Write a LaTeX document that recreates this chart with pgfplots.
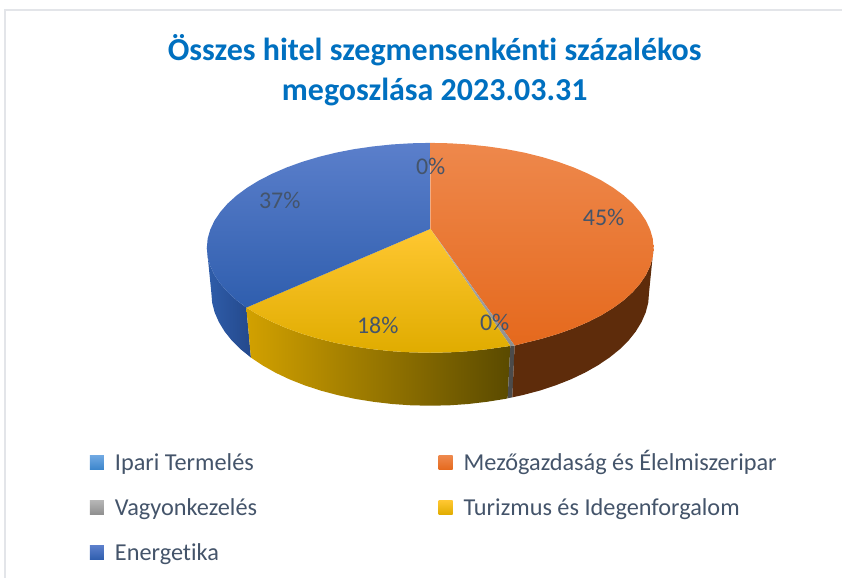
\documentclass[border=0pt]{standalone}
\usepackage{pgfplots}
\pgfplotsset{compat=1.18}
\usepackage{fontspec}
\setmainfont{Carlito}[Ligatures=CommonOff]

\definecolor{titleblue}{HTML}{0070C0}
\definecolor{slate}{HTML}{44546A}
\definecolor{framegray}{HTML}{E3E5E9}
\definecolor{sideblueA}{HTML}{2F5DAA}
\definecolor{sideblueB}{HTML}{24498C}
\definecolor{sideyelA}{HTML}{D2A100}
\definecolor{sideyelB}{HTML}{8F7100}
\definecolor{sideyelC}{HTML}{5A4A00}
\definecolor{sidegray}{HTML}{4B4B4B}
\definecolor{sideorange}{HTML}{5E2C0B}
\definecolor{ipariA}{HTML}{6FA8E2}
\definecolor{ipariB}{HTML}{3C85CB}
\definecolor{orangeA}{HTML}{EE884C}
\definecolor{orangeB}{HTML}{F27829}
\definecolor{orangeC}{HTML}{E5691D}
\definecolor{grayA}{HTML}{B5B5B5}
\definecolor{grayB}{HTML}{8F8F8F}
\definecolor{yelA}{HTML}{FFC731}
\definecolor{yelB}{HTML}{FFC000}
\definecolor{yelC}{HTML}{E0AC00}
\definecolor{blueA}{HTML}{5B7FCB}
\definecolor{blueB}{HTML}{3C68C0}
\definecolor{blueC}{HTML}{2F5EAE}

\begin{document}
\begin{tikzpicture}
\begin{axis}[
    width=843pt, height=578pt, scale only axis,
    xmin=0, xmax=843, ymin=0, ymax=578, y dir=reverse,
    axis lines=none, clip=false,
    legend columns=2,
    legend cell align=left,
    legend style={at={(axis cs:90,455)}, anchor=north west, draw=none, fill=none,
        inner sep=0pt, outer sep=0pt, row sep=23pt,
        nodes={inner sep=0pt, outer sep=0pt, text height=16pt, text depth=6pt},
        font=\fontsize{24.3}{28}\selectfont\color{slate}},
    legend image code/.code={\path[#1] (0pt,-4pt) rectangle (14pt,10pt);\path (0pt,0pt) -- (25pt,0pt);},
]
% side walls
\addplot[forget plot, draw=none, left color=sideblueA, right color=sideblueB] coordinates {
 (207.0,248) (207.8,257.2) (210.4,266.2) (214.6,275.2) (220.5,283.9) (227.9,292.4) (236.9,300.5) (246.5,307.8)
 (251.1,357.8) (240.8,349.5) (232.0,340.8) (224.7,331.6) (219.0,322.2) (214.8,312.6) (212.3,302.9) (211.5,293)
};
\addplot[forget plot, draw=none, left color=sideyelA, middle color=sideyelB, right color=sideyelC] coordinates {
 (246.5,307.8) (259.3,315.5) (272.5,322.2) (286.8,328.4) (302.3,334.0) (318.7,338.9) (336.0,343.2) (354.1,346.7)
 (372.7,349.4) (391.7,351.4) (411.0,352.6) (430.5,353) (450.0,352.6) (469.3,351.4) (488.3,349.4) (506.9,346.7) (510.7,346.2)
 (508.0,398.6) (505.4,399.2) (487.2,402.1) (468.5,404.3) (449.6,405.6) (430.5,406) (411.4,405.6) (392.5,404.3)
 (373.8,402.1) (355.6,399.2) (338.0,395.4) (321.0,390.9) (304.9,385.6) (289.7,379.6) (275.6,372.9) (262.7,365.6) (251.1,357.8)
};
\addplot[forget plot, draw=none, fill=sidegray] coordinates {
 (510.7,346.2) (515.0,345.8) (512.7,397.6) (508.0,398.6)
};
\addplot[forget plot, draw=none, fill=sideorange] coordinates {
 (654.0,248) (653.2,257.2) (650.6,266.2) (646.4,275.2) (640.5,283.9) (633.1,292.4) (624.1,300.5) (613.6,308.2)
 (601.7,315.5) (588.5,322.2) (574.2,328.4) (558.7,334.0) (542.3,338.9) (525.0,343.2) (515.0,345.8)
 (512.7,397.6) (523.0,395.4) (540.0,390.9) (556.1,385.6) (571.3,379.6) (585.4,372.9) (598.3,365.6) (609.9,357.8)
 (620.2,349.5) (629.0,340.8) (636.3,331.6) (642.0,322.2) (646.2,312.6) (648.7,302.9) (649.5,293)
};
% top faces, one per segment: 0, 45, 0, 18, 37 percent
\addplot[draw=none, top color=ipariA, bottom color=ipariB] coordinates {
 (430.7,229) (430.5,143) (430.6,143)
};
\addlegendentry{\makebox[324pt][l]{Ipari Termelés}}
\addplot[draw=none, top color=orangeA, middle color=orangeB, bottom color=orangeC] coordinates {
 (430.7,229) (430.5,143) (450.0,143.4) (469.3,144.6) (488.3,146.6) (506.9,149.3) (525.0,152.8) (542.3,157.1)
 (558.7,162.0) (574.2,167.6) (588.5,173.8) (601.7,180.5) (613.6,187.8) (624.1,195.5) (633.1,203.6) (640.5,212.1)
 (646.4,220.8) (650.6,229.8) (653.2,238.8) (654.0,248) (653.2,257.2) (650.6,266.2) (646.4,275.2) (640.5,283.9)
 (633.1,292.4) (624.1,300.5) (613.6,308.2) (601.7,315.5) (588.5,322.2) (574.2,328.4) (558.7,334.0) (542.3,338.9)
 (525.0,343.2) (515.0,345.8)
};
\addlegendentry{Mezőgazdaság és Élelmiszeripar}
\addplot[draw=none, top color=grayA, bottom color=grayB] coordinates {
 (430.7,229) (515.0,345.8) (510.7,346.2)
};
\addlegendentry{\makebox[324pt][l]{Vagyonkezelés}}
\addplot[draw=none, top color=yelA, middle color=yelB, bottom color=yelC] coordinates {
 (430.7,229) (510.7,346.2) (506.9,346.7) (488.3,349.4) (469.3,351.4) (450.0,352.6) (430.5,353) (411.0,352.6)
 (391.7,351.4) (372.7,349.4) (354.1,346.7) (336.0,343.2) (318.7,338.9) (302.3,334.0) (286.8,328.4) (272.5,322.2)
 (259.3,315.5) (246.5,307.8)
};
\addlegendentry{Turizmus és Idegenforgalom}
\addplot[draw=none, top color=blueA, middle color=blueB, bottom color=blueC] coordinates {
 (430.7,229) (246.5,307.8) (236.9,300.5) (227.9,292.4) (220.5,283.9) (214.6,275.2) (210.4,266.2) (207.8,257.2)
 (207.0,248) (207.8,238.8) (210.4,229.8) (214.6,220.8) (220.5,212.1) (227.9,203.6) (236.9,195.5) (247.4,187.8)
 (259.3,180.5) (272.5,173.8) (286.8,167.6) (302.3,162.0) (318.7,157.1) (336.0,152.8) (354.1,149.3) (372.7,146.6)
 (391.7,144.6) (411.0,143.4) (430.5,143)
};
\addlegendentry{Energetika}

% keep the page as large as the whole axis
\path (axis cs:0,0) (axis cs:843,578);
\draw[framegray, line width=1.2pt] (axis cs:5,578) -- (axis cs:5,10) -- (axis cs:843,10);
\node[align=center, font=\fontsize{32}{40}\selectfont\bfseries, text=titleblue] at (axis cs:435,70)
    {Összes hitel szegmensenkénti százalékos\\megoszlása 2023.03.31};
\begin{scope}[font=\fontsize{24}{28}\selectfont, text=slate]
\node at (axis cs:431,167) {0\%};
\node at (axis cs:604,218) {45\%};
\node at (axis cs:495,323) {0\%};
\node at (axis cs:378,326) {18\%};
\node at (axis cs:280,201) {37\%};
\end{scope}
\end{axis}
\end{tikzpicture}
\end{document}
